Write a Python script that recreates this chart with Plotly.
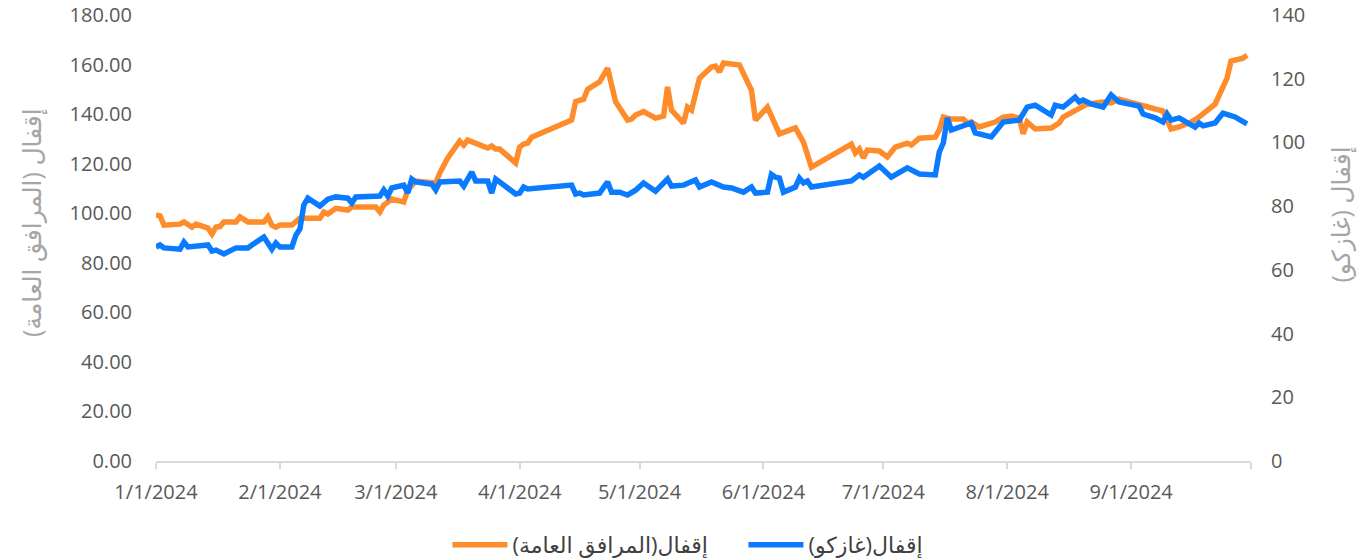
import plotly.graph_objects as go

# ---- data ----
utilities_dates = [
    "2024-01-01", "2024-01-02", "2024-01-03", "2024-01-07", "2024-01-08", "2024-01-10", "2024-01-11",
    "2024-01-14", "2024-01-15", "2024-01-16", "2024-01-17", "2024-01-18", "2024-01-21", "2024-01-22",
    "2024-01-24", "2024-01-28", "2024-01-29", "2024-01-30", "2024-01-31", "2024-02-01", "2024-02-04",
    "2024-02-06", "2024-02-11", "2024-02-12", "2024-02-13", "2024-02-15", "2024-02-18", "2024-02-19",
    "2024-02-25", "2024-02-26", "2024-02-27", "2024-02-29", "2024-03-03", "2024-03-04", "2024-03-06",
    "2024-03-10", "2024-03-11", "2024-03-12", "2024-03-14", "2024-03-17", "2024-03-18", "2024-03-19",
    "2024-03-22", "2024-03-24", "2024-03-25", "2024-03-26", "2024-03-27", "2024-03-31", "2024-04-01",
    "2024-04-02", "2024-04-03", "2024-04-04", "2024-04-14", "2024-04-15", "2024-04-17", "2024-04-18",
    "2024-04-21", "2024-04-23", "2024-04-25", "2024-04-28", "2024-04-29", "2024-04-30", "2024-05-02",
    "2024-05-04", "2024-05-05", "2024-05-07", "2024-05-08", "2024-05-09", "2024-05-12", "2024-05-13",
    "2024-05-14", "2024-05-16", "2024-05-19", "2024-05-20", "2024-05-21", "2024-05-22", "2024-05-26",
    "2024-05-28", "2024-05-29", "2024-05-30", "2024-06-02", "2024-06-05", "2024-06-09", "2024-06-11",
    "2024-06-13", "2024-06-23", "2024-06-24", "2024-06-25", "2024-06-26", "2024-06-27", "2024-06-30",
    "2024-07-02", "2024-07-04", "2024-07-07", "2024-07-08", "2024-07-10", "2024-07-14", "2024-07-15",
    "2024-07-16", "2024-07-18", "2024-07-21", "2024-07-22", "2024-07-23", "2024-07-25", "2024-07-29",
    "2024-07-31", "2024-08-02", "2024-08-04", "2024-08-05", "2024-08-06", "2024-08-08", "2024-08-12",
    "2024-08-14", "2024-08-15", "2024-08-18", "2024-08-21", "2024-08-25", "2024-08-27", "2024-08-29",
    "2024-09-03", "2024-09-06", "2024-09-09", "2024-09-11", "2024-09-13", "2024-09-16", "2024-09-18",
    "2024-09-22", "2024-09-25", "2024-09-26", "2024-09-29", "2024-09-30",
]
utilities_close = [
    99.3, 98.9, 95.2, 95.6, 96.5, 94.4, 95.6,
    94.0, 91.6, 94.4, 94.6, 96.5, 96.5, 98.5,
    96.5, 96.5, 98.5, 95.2, 94.4, 95.2, 95.2,
    98.0, 98.0, 100.5, 99.7, 102.0, 101.3, 102.5,
    102.5, 100.5, 103.3, 105.7, 104.5, 109.4, 113.0,
    112.6, 112.2, 116.2, 122.3, 129.1, 127.5, 129.5,
    127.5, 126.3, 127.1, 125.9, 125.9, 120.3, 126.7,
    127.9, 128.3, 130.7, 137.6, 145.0, 146.0, 150.0,
    153.0, 158.6, 145.0, 137.6, 138.0, 139.6, 141.0,
    139.6, 138.4, 139.2, 151.0, 141.6, 136.4, 142.8,
    141.6, 154.5, 159.0, 159.4, 157.0, 160.6, 159.8,
    153.0, 149.7, 137.6, 142.8, 132.0, 134.4, 128.7,
    118.6, 127.9, 124.3, 125.9, 122.3, 125.5, 125.1,
    122.7, 126.7, 128.3, 127.5, 130.3, 130.7, 133.6,
    138.8, 138.0, 138.0, 136.4, 136.8, 134.8, 136.8,
    138.8, 139.2, 138.4, 132.0, 136.8, 134.0, 134.4,
    136.4, 138.8, 141.2, 144.0, 144.9, 144.5, 146.0,
    144.0, 142.5, 141.2, 134.0, 134.8, 136.8, 138.8,
    144.0, 154.5, 161.4, 162.6, 163.8,
]

gasco_dates = [
    "2024-01-01", "2024-01-02", "2024-01-03", "2024-01-07", "2024-01-08", "2024-01-09", "2024-01-14",
    "2024-01-15", "2024-01-16", "2024-01-18", "2024-01-21", "2024-01-24", "2024-01-25", "2024-01-28",
    "2024-01-30", "2024-01-31", "2024-02-01", "2024-02-04", "2024-02-05", "2024-02-06", "2024-02-07",
    "2024-02-08", "2024-02-11", "2024-02-13", "2024-02-15", "2024-02-18", "2024-02-19", "2024-02-20",
    "2024-02-26", "2024-02-27", "2024-02-28", "2024-02-29", "2024-03-03", "2024-03-04", "2024-03-05",
    "2024-03-06", "2024-03-10", "2024-03-11", "2024-03-12", "2024-03-17", "2024-03-18", "2024-03-20",
    "2024-03-21", "2024-03-24", "2024-03-25", "2024-03-26", "2024-03-31", "2024-04-01", "2024-04-02",
    "2024-04-03", "2024-04-14", "2024-04-15", "2024-04-16", "2024-04-17", "2024-04-21", "2024-04-23",
    "2024-04-24", "2024-04-26", "2024-04-28", "2024-04-30", "2024-05-02", "2024-05-05", "2024-05-08",
    "2024-05-09", "2024-05-12", "2024-05-14", "2024-05-15", "2024-05-16", "2024-05-19", "2024-05-22",
    "2024-05-24", "2024-05-27", "2024-05-29", "2024-05-30", "2024-06-02", "2024-06-03", "2024-06-04",
    "2024-06-05", "2024-06-06", "2024-06-09", "2024-06-10", "2024-06-11", "2024-06-12", "2024-06-13",
    "2024-06-23", "2024-06-25", "2024-06-26", "2024-06-30", "2024-07-03", "2024-07-07", "2024-07-10",
    "2024-07-14", "2024-07-15", "2024-07-16", "2024-07-17", "2024-07-18", "2024-07-21", "2024-07-23",
    "2024-07-24", "2024-07-28", "2024-07-31", "2024-08-04", "2024-08-06", "2024-08-08", "2024-08-12",
    "2024-08-13", "2024-08-15", "2024-08-18", "2024-08-19", "2024-08-20", "2024-08-22", "2024-08-25",
    "2024-08-27", "2024-08-29", "2024-09-03", "2024-09-04", "2024-09-07", "2024-09-09", "2024-09-10",
    "2024-09-11", "2024-09-13", "2024-09-15", "2024-09-17", "2024-09-18", "2024-09-19", "2024-09-22",
    "2024-09-24", "2024-09-27", "2024-09-30",
]
gasco_close = [
    67.2, 67.8, 66.9, 66.5, 68.7, 67.2, 67.8,
    65.9, 66.2, 65.0, 66.9, 66.9, 67.8, 70.3,
    66.5, 68.4, 67.2, 67.2, 70.9, 72.8, 80.4,
    82.5, 80.0, 82.2, 82.9, 82.5, 81.0, 82.9,
    83.2, 85.1, 83.2, 85.7, 86.6, 84.1, 88.5,
    87.6, 86.9, 85.1, 87.6, 87.9, 86.3, 90.7,
    87.9, 87.9, 84.1, 88.5, 83.8, 84.1, 86.0,
    85.4, 86.6, 83.8, 84.1, 83.5, 84.1, 87.6,
    84.4, 84.4, 83.5, 85.0, 87.3, 84.7, 88.5,
    86.3, 86.6, 87.6, 88.2, 86.0, 87.6, 86.0,
    85.7, 84.4, 86.0, 84.1, 84.4, 90.0, 89.1,
    88.8, 84.4, 86.0, 88.8, 87.3, 87.9, 86.0,
    87.9, 89.8, 89.1, 92.6, 89.1, 92.0, 90.1,
    89.8, 97.0, 99.8, 107.7, 103.9, 105.5, 106.1,
    103.0, 101.7, 106.4, 107.0, 111.1, 111.7, 108.6,
    111.7, 111.1, 114.2, 112.7, 113.3, 112.1, 111.1,
    114.9, 112.7, 111.4, 108.9, 107.7, 106.4, 108.9,
    107.0, 107.7, 106.1, 104.8, 106.1, 105.2, 106.1,
    109.2, 108.0, 105.8,
]

month_ticks = ["2024-01-01", "2024-02-01", "2024-03-01", "2024-04-01", "2024-05-01",
               "2024-06-01", "2024-07-01", "2024-08-01", "2024-09-01", "2024-10-01"]
month_labels = ["1/1/2024", "2/1/2024", "3/1/2024", "4/1/2024", "5/1/2024",
                "6/1/2024", "7/1/2024", "8/1/2024", "9/1/2024", ""]
left_ticks = [0, 20, 40, 60, 80, 100, 120, 140, 160, 180]
right_ticks = [0, 20, 40, 60, 80, 100, 120, 140]

name_utilities = "إقفال(المرافق العامة)"
name_gasco = "إقفال(غازكو)"
title_left = "إقفال (المرافق العامة)"
title_right = "إقفال (غازكو)"

ORANGE = "#FF8C2B"
BLUE = "#0A7BFF"
FONT = "Open Sans, DejaVu Sans, sans-serif"
TITLE_COLOR = "#A6A6A6"

fig = go.Figure()
fig.add_trace(go.Scatter(
    x=utilities_dates, y=utilities_close, name=name_utilities, mode="lines",
    line=dict(color=ORANGE, width=5.5), yaxis="y",
))
fig.add_trace(go.Scatter(
    x=gasco_dates, y=gasco_close, name=name_gasco, mode="lines",
    line=dict(color=BLUE, width=5.5), yaxis="y2",
))

fig.update_layout(
    width=1360, height=558,
    margin=dict(l=156, r=109, t=15, b=97, autoexpand=False),
    paper_bgcolor="white", plot_bgcolor="white",
    font=dict(family=FONT, size=20, color="#595959"),
    showlegend=True,
    legend=dict(
        orientation="h", xref="container", x=0.329, xanchor="left",
        y=-0.188, yanchor="middle",
        font=dict(size=22, color="#404040"), itemwidth=55, entrywidth=226,
        traceorder="normal",
    ),
    xaxis=dict(
        type="date", range=["2024-01-01", "2024-10-01"], automargin=False,
        tickmode="array", tickvals=month_ticks, ticktext=month_labels,
        showgrid=False, zeroline=False,
        showline=True, linecolor="#D9D9D9", linewidth=2,
        ticks="outside", ticklen=6, tickcolor="#D9D9D9", tickwidth=1.5,
        ticklabelstandoff=6,
        tickfont=dict(size=20, color="#595959"),
    ),
    yaxis=dict(
        range=[0, 180], tickmode="array", tickvals=left_ticks, automargin=False,
        tickformat=".2f", showgrid=False, zeroline=False, showline=False,
        ticks="", ticklabelstandoff=23, tickfont=dict(size=20, color="#595959"),
    ),
    yaxis2=dict(
        range=[0, 140], tickmode="array", tickvals=right_ticks, automargin=False,
        overlaying="y", side="right", showgrid=False, zeroline=False, showline=False,
        ticks="", ticklabelstandoff=19, tickfont=dict(size=20, color="#595959"),
    ),
    annotations=[
        dict(text=title_left, textangle=-90, xref="paper", yref="paper",
             x=-0.1142, y=0.536, xanchor="center", yanchor="middle", showarrow=False,
             font=dict(size=25, color=TITLE_COLOR)),
        dict(text=title_right, textangle=-90, xref="paper", yref="paper",
             x=1.081, y=0.552, xanchor="center", yanchor="middle", showarrow=False,
             font=dict(size=25, color=TITLE_COLOR)),
    ],
)

fig.write_html(
    "out.html",
    config={"displayModeBar": False},
    post_script="document.body.style.margin='0px';document.body.style.padding='0px';",
)
